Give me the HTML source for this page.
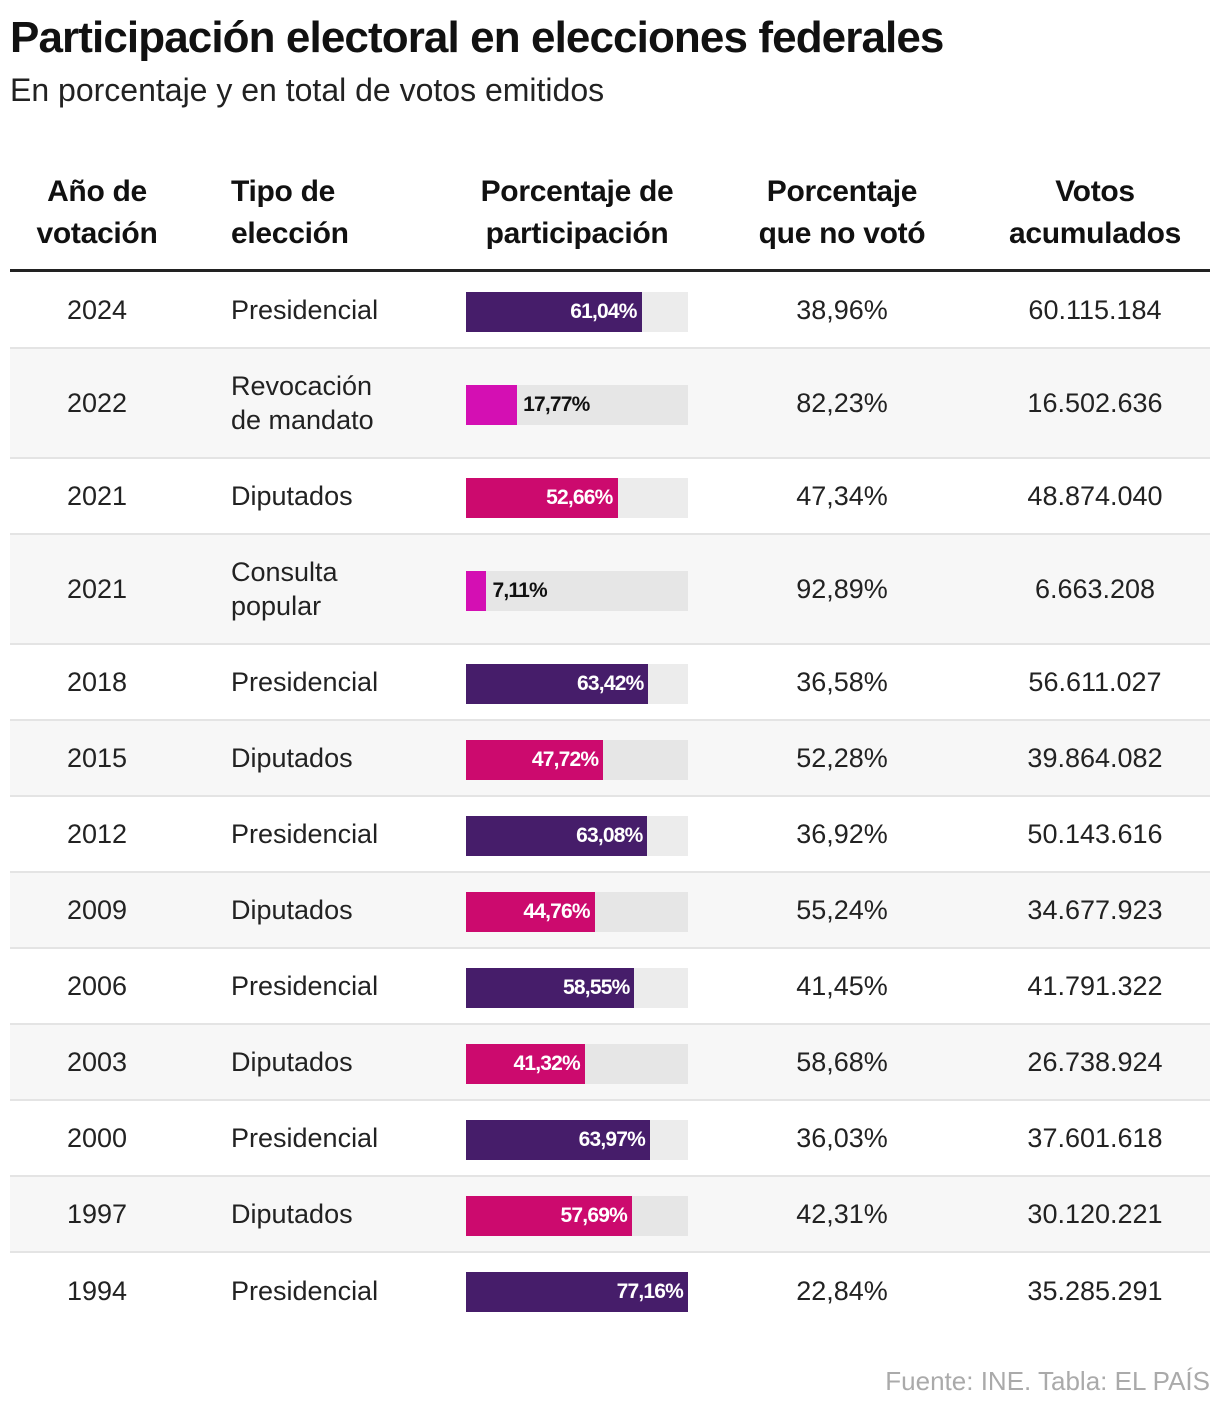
<!DOCTYPE html>
<html><head><meta charset="utf-8">
<style>
body{margin:0;width:1220px;height:1412px;background:#fff;position:relative;font-family:"Liberation Sans",sans-serif;color:#222;overflow:hidden}
.abs{position:absolute;white-space:nowrap}
#title{left:10px;top:13px;font-size:44px;font-weight:bold;letter-spacing:-0.9px;color:#111}
#sub{left:10px;top:72px;font-size:32px;color:#222}
.hd{position:absolute;top:171px;font-size:30px;font-weight:bold;line-height:42px;color:#111;letter-spacing:-0.3px;white-space:nowrap}
#hline{left:10px;top:269px;width:1200px;height:3px;background:#222}
.row{position:absolute;left:10px;width:1200px;border-bottom:2px solid #e4e4e4;box-sizing:border-box}
.cell{position:absolute;top:0;bottom:0;display:flex;align-items:center;font-size:27px;line-height:34px}
.track{position:absolute;left:456px;width:222px;height:40px}
.bar{position:absolute;left:0;top:0;height:40px}
.lab{position:absolute;top:0;line-height:40px;font-size:21px;font-weight:bold;letter-spacing:-0.8px}
#foot{right:10px;top:1366px;font-size:26px;color:#aaa}
</style></head><body>
<div id="title" class="abs">Participación electoral en elecciones federales</div>
<div id="sub" class="abs">En porcentaje y en total de votos emitidos</div>
<div class="hd" style="left:10px;width:174px;text-align:center">Año de<br>votación</div>
<div class="hd" style="left:231px">Tipo de<br>elección</div>
<div class="hd" style="left:446px;width:262px;text-align:center">Porcentaje de<br>participación</div>
<div class="hd" style="left:722px;width:240px;text-align:center">Porcentaje<br>que no votó</div>
<div class="hd" style="left:975px;width:240px;text-align:center">Votos<br>acumulados</div>
<div id="hline" class="abs"></div>
<div id="rows"></div>
<div id="foot" class="abs">Fuente: INE. Tabla: EL PAÍS</div>
<script>
const years=["2024","2022","2021","2021","2018","2015","2012","2009","2006","2003","2000","1997","1994"];
const types=["Presidencial","Revocación<br>de mandato","Diputados","Consulta<br>popular","Presidencial","Diputados","Presidencial","Diputados","Presidencial","Diputados","Presidencial","Diputados","Presidencial"];
const participation=[61.04,17.77,52.66,7.11,63.42,47.72,63.08,44.76,58.55,41.32,63.97,57.69,77.16];
const abstention=[38.96,82.23,47.34,92.89,36.58,52.28,36.92,55.24,41.45,58.68,36.03,42.31,22.84];
const votes=["60.115.184","16.502.636","48.874.040","6.663.208","56.611.027","39.864.082","50.143.616","34.677.923","41.791.322","26.738.924","37.601.618","30.120.221","35.285.291"];
const fmt=v=>v.toFixed(2).replace('.',',')+'%';
const maxV=Math.max(...participation);
const xScale=v=>v/maxV*222;
const container=document.getElementById('rows');
let rowTop=272;
years.forEach((y,i)=>{
  const two=types[i].includes('<br>');
  const h=i===0?77:(two?110:76);
  const t=types[i];
  const color=t.startsWith('Presidencial')?'#461d6a':(t.startsWith('Diputados')?'#cc0a6e':'#d40fb3');
  const r=document.createElement('div');
  
  
  r.className='row';
  r.style.top=rowTop+'px';r.style.height=h+'px';
  r.style.background=i%2?'#f7f7f7':'#fff';
  if(i===years.length-1) r.style.borderBottom='none';
  const w=xScale(participation[i]);
  const inside=w>60;
  r.innerHTML=
   `<div class="cell" style="left:0;width:174px;justify-content:center">${y}</div>`+
   `<div class="cell" style="left:221px">${t}</div>`+
   `<div class="track" style="top:${(h-40)/2+1}px;background:${i%2?'#e6e6e6':'#ececec'}">`+
   `<div class="bar" style="width:${w}px;background:${color}"></div>`+
   (inside?`<div class="lab" style="right:${222-w+5}px;color:#fff">${fmt(participation[i])}</div>`
          :`<div class="lab" style="left:${w+6}px;color:#111">${fmt(participation[i])}</div>`)+
   `</div>`+
   `<div class="cell" style="left:732px;width:200px;justify-content:center">${fmt(abstention[i])}</div>`+
   `<div class="cell" style="left:985px;width:200px;justify-content:center">${votes[i]}</div>`;
  container.appendChild(r);
  rowTop+=h;
});
</script>
</body></html>
